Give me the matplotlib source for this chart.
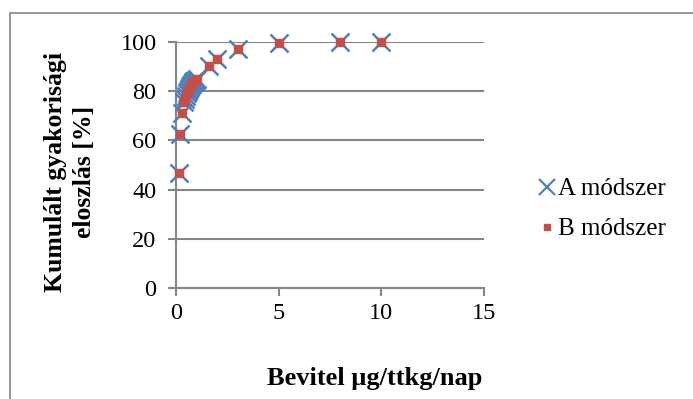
import matplotlib.pyplot as plt
from matplotlib.lines import Line2D
from matplotlib.patches import Rectangle

# data (both methods give nearly the same curve)
bevitel_a = [0.13, 0.2, 0.3, 0.4, 0.45, 0.5, 0.55, 0.6, 0.65, 0.7, 0.75,
             0.8, 0.85, 0.9, 0.95, 1.0, 1.6, 2.0, 3.0, 5.0, 8.0, 10.0]
kumulalt_a = [46.6, 62.6, 71.0, 75.7, 77.0, 78.2, 79.3, 80.2, 81.0, 81.8, 82.4,
              83.0, 83.6, 84.1, 84.5, 84.8, 90.2, 93.0, 97.0, 99.6, 99.9, 100.0]
bevitel_b = [0.13, 0.2, 0.3, 0.4, 0.45, 0.5, 0.55, 0.6, 0.65, 0.7, 0.75,
             0.8, 0.85, 0.9, 0.95, 1.0, 1.6, 2.0, 3.0, 5.0, 8.0, 10.0]
kumulalt_b = [46.6, 62.6, 71.0, 75.7, 77.0, 78.2, 79.3, 80.2, 81.0, 81.8, 82.4,
              83.0, 83.6, 84.1, 84.5, 84.8, 90.2, 93.0, 97.0, 99.6, 99.9, 100.0]

x_ticks = [0, 5, 10, 15]
y_ticks = [0, 20, 40, 60, 80, 100]

KEK = '#4F81BD'
PIROS = '#C0504D'
SZURKE = '#868686'

plt.rcParams['font.family'] = 'Liberation Serif'

W, H = 693, 399
fig = plt.figure(figsize=(W / 100, H / 100), dpi=100, facecolor='white')
ax = fig.add_axes([176 / W, 1 - 288 / H, 308 / W, 246 / H])

# outer chart border (right and bottom edges fall outside the picture)
fig.patches.append(Rectangle((10 / W, -0.02), 1.0, 1 - 13 / H + 0.02,
                             transform=fig.transFigure, fill=False,
                             edgecolor=SZURKE, linewidth=1.2))

ax.plot(bevitel_a, kumulalt_a, linestyle='none', marker='x', markersize=13,
        markeredgewidth=1.8, color=KEK, zorder=3, clip_on=False)
ax.plot(bevitel_b, kumulalt_b, linestyle='none', marker='s', markersize=6,
        color=PIROS, markeredgecolor=PIROS, zorder=4, clip_on=False)

ax.set_xlim(0, 15)
ax.set_ylim(0, 100)
ax.set_xticks(x_ticks)
ax.set_yticks(y_ticks)
ax.tick_params(axis='both', labelsize=17.5, color=SZURKE, width=1.5, length=6)
ax.tick_params(axis='x', pad=5)
ax.tick_params(axis='y', pad=8)

ax.yaxis.grid(True, color=SZURKE, linewidth=1.5)
ax.set_axisbelow(True)
for s in ['top', 'right']:
    ax.spines[s].set_visible(False)
for s in ['left', 'bottom']:
    ax.spines[s].set_color(SZURKE)
    ax.spines[s].set_linewidth(1.5)

# axis titles placed in pixel positions of the reference
fig.text(70 / W, 1 - 172 / H, 'Kumulált gyakorisági\neloszlás [%]',
         fontsize=18.5, fontweight='bold', rotation=90, ha='center',
         va='center', multialignment='center', linespacing=1.3)
fig.text(375 / W, 1 - 378 / H, 'Bevitel µg/ttkg/nap', fontsize=19,
         fontweight='bold', ha='center', va='center')

jelek = [
    Line2D([], [], linestyle='none', marker='x', markersize=11,
           markeredgewidth=1.6, color=KEK, label='A módszer'),
    Line2D([], [], linestyle='none', marker='s', markersize=5, color=PIROS,
           label='B módszer'),
]
fig.legend(handles=jelek, loc='center left', bbox_to_anchor=(537 / W, 1 - 209 / H),
           bbox_transform=fig.transFigure, frameon=False, fontsize=18,
           handlelength=0.8, handletextpad=0.05, labelspacing=0.7,
           borderpad=0, borderaxespad=0)

fig.savefig('out.png', dpi=100, facecolor='white')
